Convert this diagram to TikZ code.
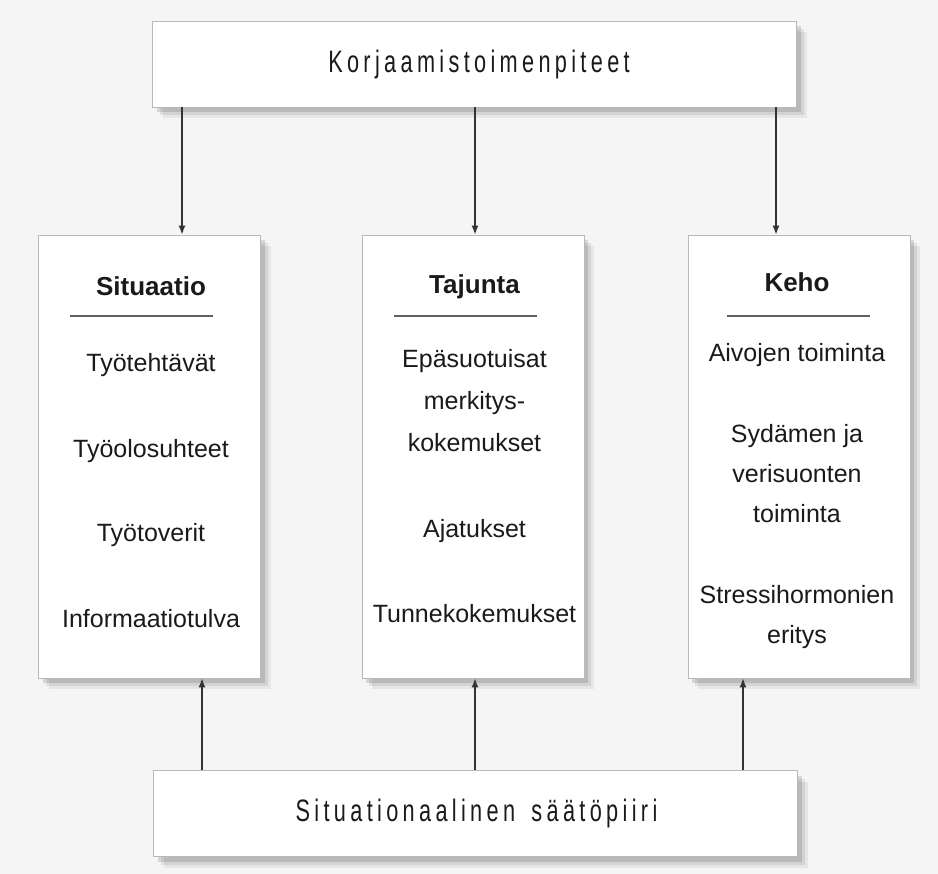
\documentclass[tikz,border=0pt]{standalone}
\usepackage{fontspec}
\setmainfont{Liberation Sans}
\newfontfamily\spacedfont[LetterSpace=14,FakeStretch=0.7]{Liberation Sans}
\usetikzlibrary{arrows.meta,shadows}
\definecolor{bgcol}{HTML}{F5F5F5}
\definecolor{txt}{HTML}{1A1A1A}
\definecolor{arrcol}{HTML}{333333}
\begin{document}
\begin{tikzpicture}[x=1pt,y=-1pt,
  box/.style={draw=gray!55, line width=0.8pt, fill=white, inner sep=0pt, rectangle,
    drop shadow={shadow xshift=10pt,shadow yshift=-11pt,opacity=0.06,fill=black},
    drop shadow={shadow xshift=7pt,shadow yshift=-8pt,opacity=0.08,fill=black},
    drop shadow={shadow xshift=4pt,shadow yshift=-5pt,opacity=0.12,fill=black}},
  colbox/.style={box, minimum width=222pt, minimum height=443pt},
  widebox/.style={box, minimum width=644pt, minimum height=86pt, font=\spacedfont\fontsize{31}{36}\selectfont, text=txt},
  head/.style={anchor=base, font=\bfseries\fontsize{26}{30}\selectfont, text=txt, inner sep=0pt},
  item/.style={anchor=base, font=\fontsize{25}{30}\selectfont, text=txt, inner sep=0pt},
  rulestyle/.style={draw=gray!75!black, line width=1.8pt},
  arr/.style={draw=arrcol, line width=1.4pt, -{Latex[length=9pt,width=7pt]}}
]
\fill[bgcol] (0,0) rectangle (938,874);
\useasboundingbox (0,0) rectangle (938,874);

% boxes
\node[widebox] (top) at (474.5,64) {\raisebox{-3pt}{\hspace*{9pt}Korjaamistoimenpiteet}};
\node[colbox] (sit) at (149.5,456.5) {};
\node[colbox] (taj) at (473,456.5) {};
\node[colbox] (keh) at (799,456.5) {};
\node[widebox] (bot) at (475.5,813.5) {\raisebox{-3pt}{\hspace*{2pt}Situationaalinen\hspace{6pt} säätöpiiri}};

% left column
\node[head] (h1) at (151,296) {Situaatio};
\draw[rulestyle] (70,316) -- (213,316);
\node[item] (s1) at (151,372) {Työtehtävät};
\node[item] (s2) at (151,458) {Työolosuhteet};
\node[item] (s3) at (151,542) {Työtoverit};
\node[item] (s4) at (151,627) {Informaatiotulva};

% middle column
\node[head] (h2) at (474.5,294) {Tajunta};
\draw[rulestyle] (394,316) -- (537,316);
\node[item] (t1) at (474.5,368) {Epäsuotuisat};
\node[item] (t2) at (474.5,410) {merkitys-};
\node[item] (t3) at (474.5,452) {kokemukset};
\node[item] (t4) at (474.5,538) {Ajatukset};
\node[item] (t5) at (474.5,623) {Tunnekokemukset};

% right column
\node[head] (h3) at (797,292) {Keho};
\draw[rulestyle] (727,316) -- (870,316);
\node[item] (k1) at (797,362) {Aivojen toiminta};
\node[item] (k2) at (797,443) {Sydämen ja};
\node[item] (k3) at (797,483) {verisuonten};
\node[item] (k4) at (797,523) {toiminta};
\node[item] (k5) at (797,603) {Stressihormonien};
\node[item] (k6) at (797,643) {eritys};

% arrows from top
\draw[arr] ([xshift=32.5pt]sit.north |- top.south) -- ([xshift=32.5pt]sit.north);
\draw[arr] ([xshift=2pt]taj.north |- top.south) -- ([xshift=2pt]taj.north);
\draw[arr] ([xshift=-23pt]keh.north |- top.south) -- ([xshift=-23pt]keh.north);

% arrows from bottom
\draw[arr] ([xshift=52.5pt]sit.south |- bot.north) -- ([xshift=52.5pt]sit.south);
\draw[arr] ([xshift=2pt]taj.south |- bot.north) -- ([xshift=2pt]taj.south);
\draw[arr] ([xshift=-56pt]keh.south |- bot.north) -- ([xshift=-56pt]keh.south);
\end{tikzpicture}
\end{document}
